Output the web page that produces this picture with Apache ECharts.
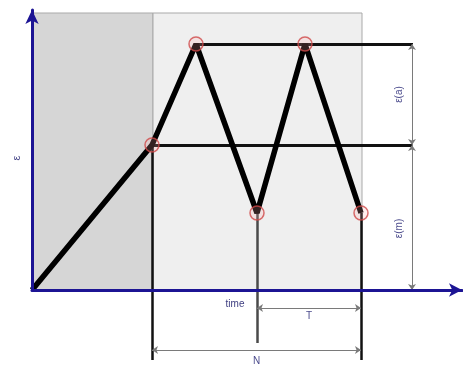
<!DOCTYPE html>
<html>
<head>
<meta charset="utf-8">
<script src="https://cdn.jsdelivr.net/npm/echarts@6/dist/echarts.min.js"></script>
<style>
  html, body { margin: 0; padding: 0; background: #fff; }
  #chart { width: 463px; height: 367px; }
</style>
</head>
<body>
<div id="chart"></div>
<script>
// load path: origin -> A -> peak -> trough -> peak -> trough
var timeVals = [0, 120, 164, 225, 273, 329];
var strainVals = [0, 145, 246, 77, 246, 77];
var markedIdx = [1, 2, 3, 4, 5];

// guide lines
var guideEndX = 381;          // where the horizontal guides stop
var dropIdx = [1, 3, 5];      // points with a vertical drop line
var dropEnds = [-70, -53, -70];
var dimX = 380;               // vertical dimension line
var tLevel = -18;
var nLevel = -60;

// shaded zones [from, to]
var zones = [[0, 121], [121, 330]];
var zoneTop = 277;
var zoneColors = ['#d6d6d6', '#efefef'];

var axisNames = { x: 'time', y: 'ε' };
var dimNames = ['ε(a)', 'ε(m)', 'T', 'N'];

var pathData = timeVals.map(function (t, i) { return [t, strainVals[i]]; });
var markData = markedIdx.map(function (i) { return pathData[i]; });

var guideData = [
  { coords: [pathData[1], [guideEndX, strainVals[1]]] },
  { coords: [pathData[2], [guideEndX, strainVals[2]]] }
];

var dropData = dropIdx.map(function (i, k) {
  return {
    coords: [pathData[i], [timeVals[i], dropEnds[k]]],
    lineStyle: k === 1 ? { color: '#4a4a4a' } : {}
  };
});

var labelStyle = { show: true, formatter: '{b}', color: '#4b4b8c', fontSize: 10, fontFamily: 'Liberation Sans' };
var dimData = [
  { name: dimNames[0], coords: [[dimX, strainVals[1]], [dimX, strainVals[2]]],
    label: Object.assign({}, labelStyle, { position: 'insideMiddleTop', distance: 8 }) },
  { name: dimNames[1], coords: [[dimX, 0], [dimX, strainVals[1]]],
    label: Object.assign({}, labelStyle, { position: 'insideMiddleTop', distance: 8, padding: [0, 22, 0, 0] }) },
  { name: dimNames[2], coords: [[timeVals[3], tLevel], [timeVals[5], tLevel]],
    label: Object.assign({}, labelStyle, { position: 'insideMiddleBottom', distance: 3 }) },
  { name: dimNames[3], coords: [[timeVals[1], nLevel], [timeVals[5], nLevel]],
    label: Object.assign({}, labelStyle, { position: 'insideMiddleBottom', distance: 6 }) }
];

var zoneData = zones.map(function (z, i) {
  return [
    { xAxis: z[0], yAxis: 0, itemStyle: { color: zoneColors[i] } },
    { xAxis: z[1], yAxis: zoneTop }
  ];
});

var option = {
  animation: false,
  backgroundColor: '#fff',
  grid: { left: 32, right: 1, top: 10, bottom: 77 },
  xAxis: {
    type: 'value',
    min: 0,
    max: 430,
    z: 10,
    name: axisNames.x,
    nameLocation: 'middle',
    nameGap: 9,
    nameTextStyle: { color: '#3d3d80', fontSize: 10, fontFamily: 'Liberation Sans', padding: [0, 24, 0, 0] },
    axisLine: {
      lineStyle: { color: '#1c1494', width: 3 },
      symbol: ['none', 'arrow'],
      symbolSize: [10, 13]
    },
    axisTick: { show: false },
    axisLabel: { show: false },
    splitLine: { show: false }
  },
  yAxis: {
    type: 'value',
    min: 0,
    max: 280,
    z: 10,
    name: axisNames.y,
    nameLocation: 'middle',
    nameRotate: 90,
    nameGap: 10,
    nameTextStyle: { color: '#4b4b8c', fontSize: 11, fontFamily: 'Liberation Sans', padding: [0, 16, 0, 0] },
    axisLine: {
      lineStyle: { color: '#1c1494', width: 3 },
      symbol: ['none', 'arrow'],
      symbolSize: [10, 14]
    },
    axisTick: { show: false },
    axisLabel: { show: false },
    splitLine: { show: false }
  },
  series: [
    {
      type: 'line',
      data: [],
      silent: true,
      markArea: {
        silent: true,
        itemStyle: { borderColor: '#a9a9a9', borderWidth: 1 },
        data: zoneData
      },
      z: 1
    },
    {
      type: 'lines',
      coordinateSystem: 'cartesian2d',
      clip: false,
      silent: true,
      lineStyle: { color: '#111', width: 3, opacity: 1 },
      data: guideData,
      z: 3
    },
    {
      type: 'lines',
      coordinateSystem: 'cartesian2d',
      clip: false,
      silent: true,
      lineStyle: { color: '#111', width: 2.5, opacity: 1 },
      data: dropData,
      z: 3
    },
    {
      type: 'lines',
      coordinateSystem: 'cartesian2d',
      clip: false,
      silent: true,
      symbol: ['arrow', 'arrow'],
      symbolSize: 6,
      lineStyle: { color: '#7a7a7a', width: 1, opacity: 1 },
      data: dimData,
      z: 3
    },
    {
      type: 'line',
      data: pathData,
      clip: false,
      showSymbol: false,
      silent: true,
      lineStyle: { color: '#000', width: 5.5 },
      z: 4
    },
    {
      type: 'scatter',
      data: markData,
      clip: false,
      silent: true,
      symbol: 'circle',
      symbolSize: 14,
      itemStyle: {
        color: 'rgba(255,170,170,0.25)',
        borderColor: '#d04848',
        borderWidth: 1.5
      },
      z: 5
    }
  ]
};

var chart = echarts.init(document.getElementById('chart'));
chart.setOption(option);
</script>
</body>
</html>
